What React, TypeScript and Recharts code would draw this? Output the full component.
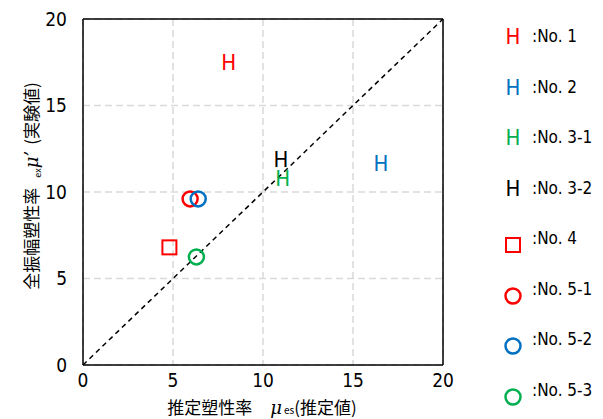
import React from 'react';
import { ScatterChart, Scatter, XAxis, YAxis, CartesianGrid, ReferenceLine } from 'recharts';

const seriesNames = ['No. 1', 'No. 2', 'No. 3-1', 'No. 3-2', 'No. 4', 'No. 5-1', 'No. 5-2', 'No. 5-3'];
const estimatedValues = [8.1, 16.55, 11.1, 11.0, 4.8, 5.95, 6.4, 6.3];
const measuredValues = [17.5, 11.7, 10.8, 11.9, 6.8, 9.6, 9.6, 6.25];
const markerKinds = ['H', 'H', 'H', 'H', 'square', 'circle', 'circle', 'circle'];
const seriesColors = ['#ff0000', '#0070c0', '#00b050', '#000000', '#ff0000', '#ff0000', '#0070c0', '#00b050'];
const axisTicks = [0, 5, 10, 15, 20];
const diagonal = [{ x: 0, y: 0 }, { x: 20, y: 20 }];

const NARROW = '"DejaVu Sans Condensed", "Liberation Sans Narrow", "Noto Sans CJK JP", sans-serif';
const JP = '"Noto Sans CJK JP", sans-serif';

function Marker({ kind, color, cx, cy }: { kind: string; color: string; cx: number; cy: number }) {
  if (kind === 'H') {
    return (
      <text x={cx} y={cy} dy={8} textAnchor="middle" fill={color} fontSize={22} fontFamily={NARROW}>
        H
      </text>
    );
  }
  if (kind === 'square') {
    return <rect x={cx - 7} y={cy - 7} width={14} height={14} fill="none" stroke={color} strokeWidth={2} />;
  }
  return <circle cx={cx} cy={cy} r={7.5} fill="none" stroke={color} strokeWidth={2.5} />;
}

function LegendBlock() {
  return (
    <div style={{ position: 'absolute', left: 498, top: 11, width: 105 }}>
      {seriesNames.map((name, i) => (
        <div key={name} style={{ height: 50.5, display: 'flex', alignItems: 'center', whiteSpace: 'nowrap' }}>
          <svg width={30} height={30} style={{ marginTop: markerKinds[i] === 'H' ? 0 : 14 }}>
            <Marker kind={markerKinds[i]} color={seriesColors[i]} cx={15} cy={15} />
          </svg>
          <span style={{ fontFamily: NARROW, fontSize: 17, color: '#000', marginLeft: 4 }}>:{name}</span>
        </div>
      ))}
    </div>
  );
}

function YLabel() {
  return (
    <text transform="translate(38,186) rotate(-90)" textAnchor="middle" fontFamily={JP} fontSize={17} fill="#000">
      全振幅塑性率
      <tspan fontSize={9} dx={10} dy={3}>ex</tspan>
      <tspan fontFamily="DejaVu Serif" fontStyle="italic" fontSize={18} dy={-3}>μ’</tspan>
      <tspan dx={6}>(実験値)</tspan>
    </text>
  );
}

function XLabel() {
  return (
    <text x={262} y={414} textAnchor="middle" fontFamily={JP} fontSize={17} fill="#000">
      推定塑性率
      <tspan fontFamily="DejaVu Serif" fontStyle="italic" fontSize={18} dx={18}>μ</tspan>
      <tspan fontSize={10} dx={2}>es</tspan>
      (推定値)
    </text>
  );
}

export default function App() {
  return (
    <div style={{ position: 'fixed', left: 0, top: 0, width: 603, height: 419, background: '#fff' }}>
      <ScatterChart width={603} height={419} margin={{ top: 19, right: 160, bottom: 0, left: 0 }}>
        <CartesianGrid stroke="#d9d9d9" strokeWidth={1.5} strokeDasharray="7 4" />
        <XAxis
          type="number"
          dataKey="x"
          domain={[0, 20]}
          ticks={axisTicks}
          height={54}
          tickLine={false}
          axisLine={{ stroke: '#000', strokeWidth: 1.5 }}
          tick={{ fill: '#000', fontSize: 19, fontFamily: NARROW }}
          tickMargin={3}
          label={<XLabel />}
        />
        <YAxis
          type="number"
          dataKey="y"
          domain={[0, 20]}
          ticks={axisTicks}
          width={83}
          tickLine={false}
          axisLine={{ stroke: '#000', strokeWidth: 1.5 }}
          tick={{ fill: '#000', fontSize: 19, fontFamily: NARROW }}
          tickMargin={10}
          label={<YLabel />}
        />
        <ReferenceLine y={20} stroke="#000" strokeWidth={1.5} />
        <ReferenceLine x={20} stroke="#000" strokeWidth={1.5} />
        <ReferenceLine segment={diagonal} stroke="#000" strokeWidth={1.5} strokeDasharray="5 4" />
        {seriesNames.map((name, i) => (
          <Scatter
            key={name}
            name={name}
            data={[{ x: estimatedValues[i], y: measuredValues[i] }]}
            isAnimationActive={false}
            shape={(p: any) => <Marker kind={markerKinds[i]} color={seriesColors[i]} cx={p.cx} cy={p.cy} />}
          />
        ))}
      </ScatterChart>
      <LegendBlock />
    </div>
  );
}
